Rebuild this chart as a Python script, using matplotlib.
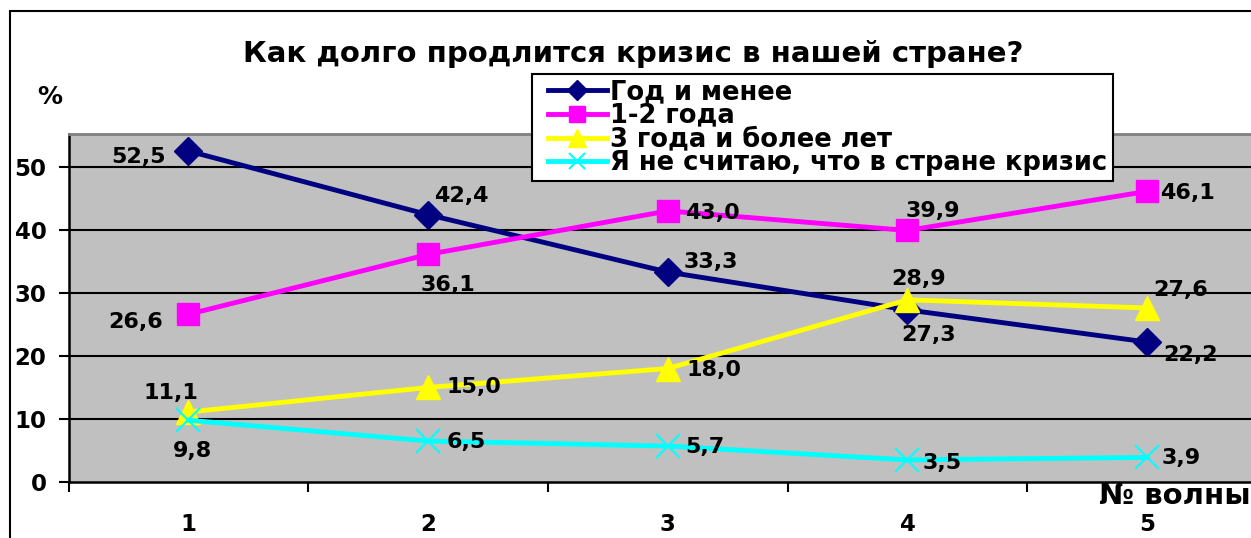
import matplotlib
matplotlib.use("Agg")
import matplotlib.pyplot as plt
from matplotlib.patches import Rectangle
from matplotlib.lines import Line2D
from matplotlib.legend_handler import HandlerLine2D

plt.rcParams['font.family'] = ['DejaVu Sans']
plt.rcParams['font.weight'] = 'bold'

waves = [1, 2, 3, 4, 5]
wave_labels = ["1", "2", "3", "4", "5"]
series_names = ["Год и менее", "1-2 года", "3 года и более лет",
                "Я не считаю, что в стране кризис"]
year_or_less = [52.5, 42.4, 33.3, 27.3, 22.2]
one_two_years = [26.6, 36.1, 43.0, 39.9, 46.1]
three_plus_years = [11.1, 15.0, 18.0, 28.9, 27.6]
no_crisis = [9.8, 6.5, 5.7, 3.5, 3.9]
title = "Как долго продлится кризис в нашей стране?"

series = [year_or_less, one_two_years, three_plus_years, no_crisis]
colors = ["#000080", "#FF00FF", "#FFFF00", "#00FFFF"]
markers = ["D", "s", "^", "x"]
msizes = [14, 16, 17, 17]
# label offsets in pixels (dx, dy), dy positive = up
offsets = [
    [(-50, -6), (33, 19), (43, 10), (21, -25), (43, -13)],
    [(-53, -8), (20, -31), (45, -2), (25, 19), (40, -2)],
    [(-18, 19), (46, 0), (46, -1), (11, 21), (33, 18)],
    [(4, -31), (38, -1), (37, -1), (35, -3), (34, -1)],
]

W, H = 1251, 538
fig = plt.figure(figsize=(W / 100, H / 100), dpi=100)

left = 68.6 / W
right_px = 1267.0
bottom = 1 - 482 / H
top = 1 - 134 / H
ax = fig.add_axes([left, bottom, (right_px - 68.6) / W, top - bottom])
ax.set_facecolor("#C0C0C0")
ax.set_xlim(0.5, 5.5)
ax.set_ylim(0, 55.2)

for y in [10, 20, 30, 40, 50]:
    ax.axhline(y, color="black", lw=1.5, zorder=1)

for vals, c, m, ms, name, offs in zip(series, colors, markers, msizes, series_names, offsets):
    if m == "x":
        ax.plot(waves, vals, color=c, lw=3.5, marker=m, markersize=ms,
                markeredgewidth=1.5, label=name, zorder=3)
    else:
        ax.plot(waves, vals, color=c, lw=3.5, marker=m, markersize=ms,
                markeredgecolor=c, label=name, zorder=3)
    for xv, yv, (dx, dy) in zip(waves, vals, offs):
        ax.annotate(f"{yv:.1f}".replace(".", ","), (xv, yv), xytext=(dx, dy),
                    textcoords="offset pixels", ha="center", va="center",
                    fontsize=16, fontweight="bold", color="black", zorder=5)

ax.set_yticks([0, 10, 20, 30, 40, 50])
ax.set_yticklabels(["0", "10", "20", "30", "40", "50"], fontsize=16.5, fontweight="bold")
ax.tick_params(axis="y", direction="out", length=7, width=1.5, pad=9)
ax.set_xticks(waves)
ax.set_xticklabels(wave_labels, fontsize=16.5, fontweight="bold")
ax.tick_params(axis="x", which="major", length=0, pad=22)
ax.set_xticks([0.5, 1.5, 2.5, 3.5, 4.5, 5.5], minor=True)
ax.tick_params(axis="x", which="minor", direction="out", length=7, width=1.5)

ax.spines["left"].set_linewidth(1.8)
ax.spines["bottom"].set_linewidth(1.8)
ax.spines["top"].set_color("#808080")
ax.spines["top"].set_linewidth(2)
ax.spines["right"].set_visible(False)

handles = []
for c, m, ms, name in zip(colors, markers, msizes, series_names):
    if m == "x":
        handles.append(Line2D([], [], color=c, lw=3.5, marker=m, markersize=12,
                              markeredgewidth=1.5))
    else:
        handles.append(Line2D([], [], color=c, lw=3.5, marker=m,
                              markersize=ms * 0.75, markeredgecolor=c))
leg_fs = 18.5
leg = fig.legend(handles, series_names, loc="upper left",
                 bbox_to_anchor=(532 / W, 1 - 74 / H),
                 frameon=True, fancybox=False, framealpha=1, edgecolor="black",
                 borderpad=0.2, labelspacing=-0.09, handlelength=2.7,
                 handletextpad=0.15, borderaxespad=0,
                 prop={"weight": "bold", "size": leg_fs},
                 handler_map={Line2D: HandlerLine2D(xpad=0.44)})
leg.get_frame().set_linewidth(1.5)

fig.text(633 / W, 1 - 62 / H, title, ha="center", va="baseline",
         fontsize=21, fontweight="bold")
fig.text(50 / W, 1 - 97 / H, "%", ha="center", va="center",
         fontsize=18, fontweight="bold")
fig.text(1251 / W, 1 - 496 / H, "№ волны", ha="right", va="center",
         fontsize=21, fontweight="bold")

fig.patches.append(Rectangle((10 / W, -0.1), 1.2, 1.1 - 11 / H, transform=fig.transFigure,
                             fill=False, edgecolor="black", lw=1.5, clip_on=False))

fig.savefig("out.png", dpi=100)
